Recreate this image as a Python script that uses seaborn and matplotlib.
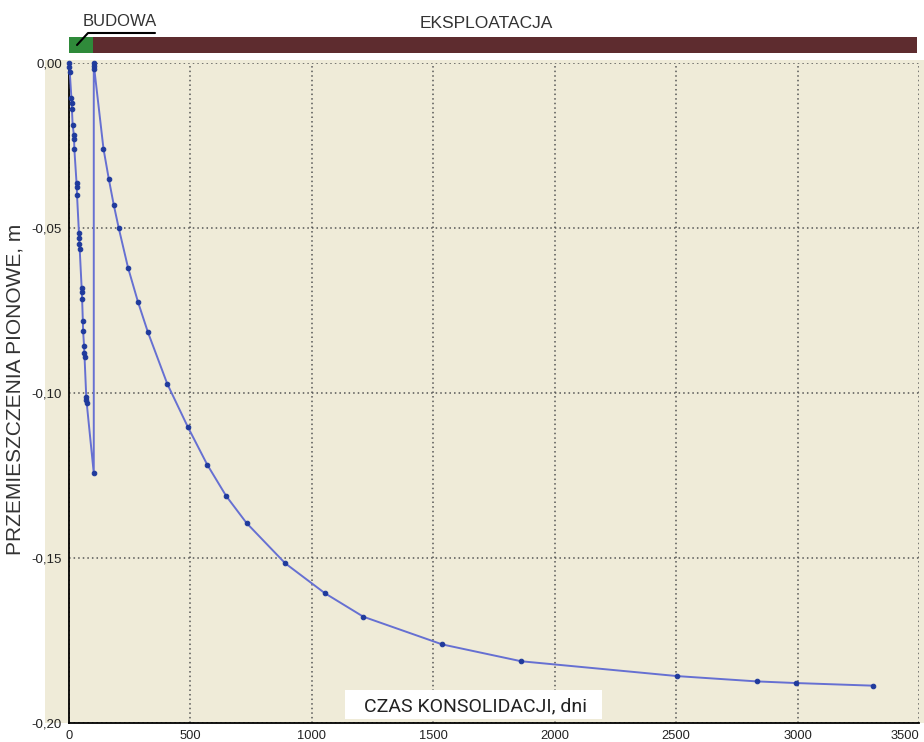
import numpy as np
import pandas as pd
import matplotlib
matplotlib.use("Agg")
import matplotlib.pyplot as plt
from matplotlib.patches import Rectangle
from matplotlib.lines import Line2D
import seaborn as sns

# ---------------- data ----------------
build_t = [0, 1, 3, 10, 11, 12, 15, 20, 21, 22, 31, 32, 33, 41, 42, 43, 44,
           52, 53, 54, 57, 58, 62, 63, 64, 71, 72, 73, 102]
build_y = [0.0, -0.001, -0.0025, -0.0106, -0.0121, -0.0139, -0.0187, -0.0217,
           -0.0230, -0.0260, -0.0362, -0.0374, -0.0399, -0.0515, -0.0530,
           -0.0547, -0.0562, -0.0680, -0.0694, -0.0715, -0.0780, -0.0810,
           -0.0857, -0.0877, -0.0890, -0.1010, -0.1020, -0.1030, -0.1242]
oper_t = [102, 103, 104, 142, 164, 184, 205, 243, 284, 325, 405, 490, 569,
          647, 731, 890, 1054, 1212, 1537, 1862, 2505, 2831, 2993, 3312]
oper_y = [0.0, -0.0008, -0.0016, -0.0259, -0.0351, -0.0428, -0.0500, -0.0619,
          -0.0723, -0.0815, -0.0972, -0.1103, -0.1216, -0.1311, -0.1393,
          -0.1515, -0.1606, -0.1677, -0.1761, -0.1812, -0.1857, -0.1873,
          -0.1878, -0.1886]

phase_names = ["BUDOWA", "EKSPLOATACJA"]
phase_start = [0, 100]
phase_end = [100, 3490]
phase_colors = ["#2f8a3a", "#5e2c2f"]

xtick_vals = [0, 500, 1000, 1500, 2000, 2500, 3000, 3500]
xtick_labels = ["0", "500", "1000", "1500", "2000", "2500", "3000", "3500"]
ytick_vals = [0.0, -0.05, -0.10, -0.15, -0.20]
ytick_labels = ["0,00", "-0,05", "-0,10", "-0,15", "-0,20"]

x_label = "CZAS KONSOLIDACJI, dni"
y_label = "PRZEMIESZCZENIA PIONOWE, m"

df = pd.DataFrame({"t": build_t + oper_t, "y": build_y + oper_y})

# ---------------- style ----------------
sns.set_style("white")
plt.rcParams["font.family"] = ["Liberation Sans", "DejaVu Sans"]

W, H = 924, 742
fig = plt.figure(figsize=(W / 100, H / 100), dpi=100)
fig.patch.set_facecolor("white")

beige = "#efebd8"
# panel background extending left of axis
fig.patches.append(Rectangle((45 / W, 1 - 723 / H), 1 - 45 / W, (723 - 60) / H,
                             transform=fig.transFigure, facecolor=beige,
                             edgecolor="none", zorder=-1))

ax = fig.add_axes([69 / W, 1 - 723.3 / H, 850 / W, (723.3 - 63.3) / H])
ax.set_facecolor(beige)

sns.lineplot(data=df, x="t", y="y", sort=False, estimator=None, ax=ax,
             color="#6670d2", linewidth=1.4, marker="o", markersize=3.3,
             markerfacecolor="#1f3a9c", markeredgecolor="#1f3a9c",
             clip_on=False, zorder=5)

ax.set_xlim(0, 3500)
ax.set_ylim(-0.2, 0.0)
ax.set_xticks(xtick_vals)
ax.set_xticklabels(xtick_labels, fontsize=9.3, color="#222222")
ax.get_xticklabels()[-1].set_ha("right")
ax.set_yticks(ytick_vals)
ax.set_yticklabels(ytick_labels, fontsize=9.5, color="#222222")
ax.tick_params(axis="both", length=3, width=1, color="black")
ax.tick_params(axis="x", pad=2)
ax.tick_params(axis="y", pad=2)
ax.set_xlabel("")
ax.set_ylabel("")
ax.grid(True, color="#555555", linestyle=(0, (1, 2)), linewidth=1.1)
for s in ["top", "right"]:
    ax.spines[s].set_visible(False)
for s in ["left", "bottom"]:
    ax.spines[s].set_color("black")
    ax.spines[s].set_linewidth(1.3)

# phase bar
bax = fig.add_axes([69 / W, 1 - 53 / H, 850 / W, 16 / H])
bax.barh([0] * len(phase_names),
         [e - s for s, e in zip(phase_start, phase_end)],
         left=phase_start, height=1.0, color=phase_colors, edgecolor="none")
bax.set_xlim(0, 3500)
bax.set_ylim(-0.5, 0.5)
bax.axis("off")

# phase labels
fig.text(120 / W, 1 - 21 / H, phase_names[0], ha="center", va="center",
         fontsize=12, color="#333333")
fig.text(486 / W, 1 - 23 / H, phase_names[1], ha="center", va="center",
         fontsize=12.5, color="#333333")
fig.lines.append(Line2D([77 / W, 88 / W, 155 / W],
                        [1 - 45 / H, 1 - 33 / H, 1 - 33 / H],
                        transform=fig.transFigure, color="black", linewidth=1.5))

# axis labels
fig.text(15 / W, 1 - 389 / H, y_label, rotation=90, ha="center", va="center",
         fontsize=15, color="#333333")
fig.patches.append(Rectangle((345 / W, 1 - 719 / H), (602 - 345) / W, 29 / H,
                             transform=fig.transFigure, facecolor="white",
                             edgecolor="none", zorder=3))
fig.text(476 / W, 1 - 706 / H, x_label, ha="center", va="center",
         fontsize=14, color="#222222", zorder=4,
         family=["Liberation Sans Narrow", "Roboto", "DejaVu Sans"])

fig.savefig("out.png", dpi=100)
